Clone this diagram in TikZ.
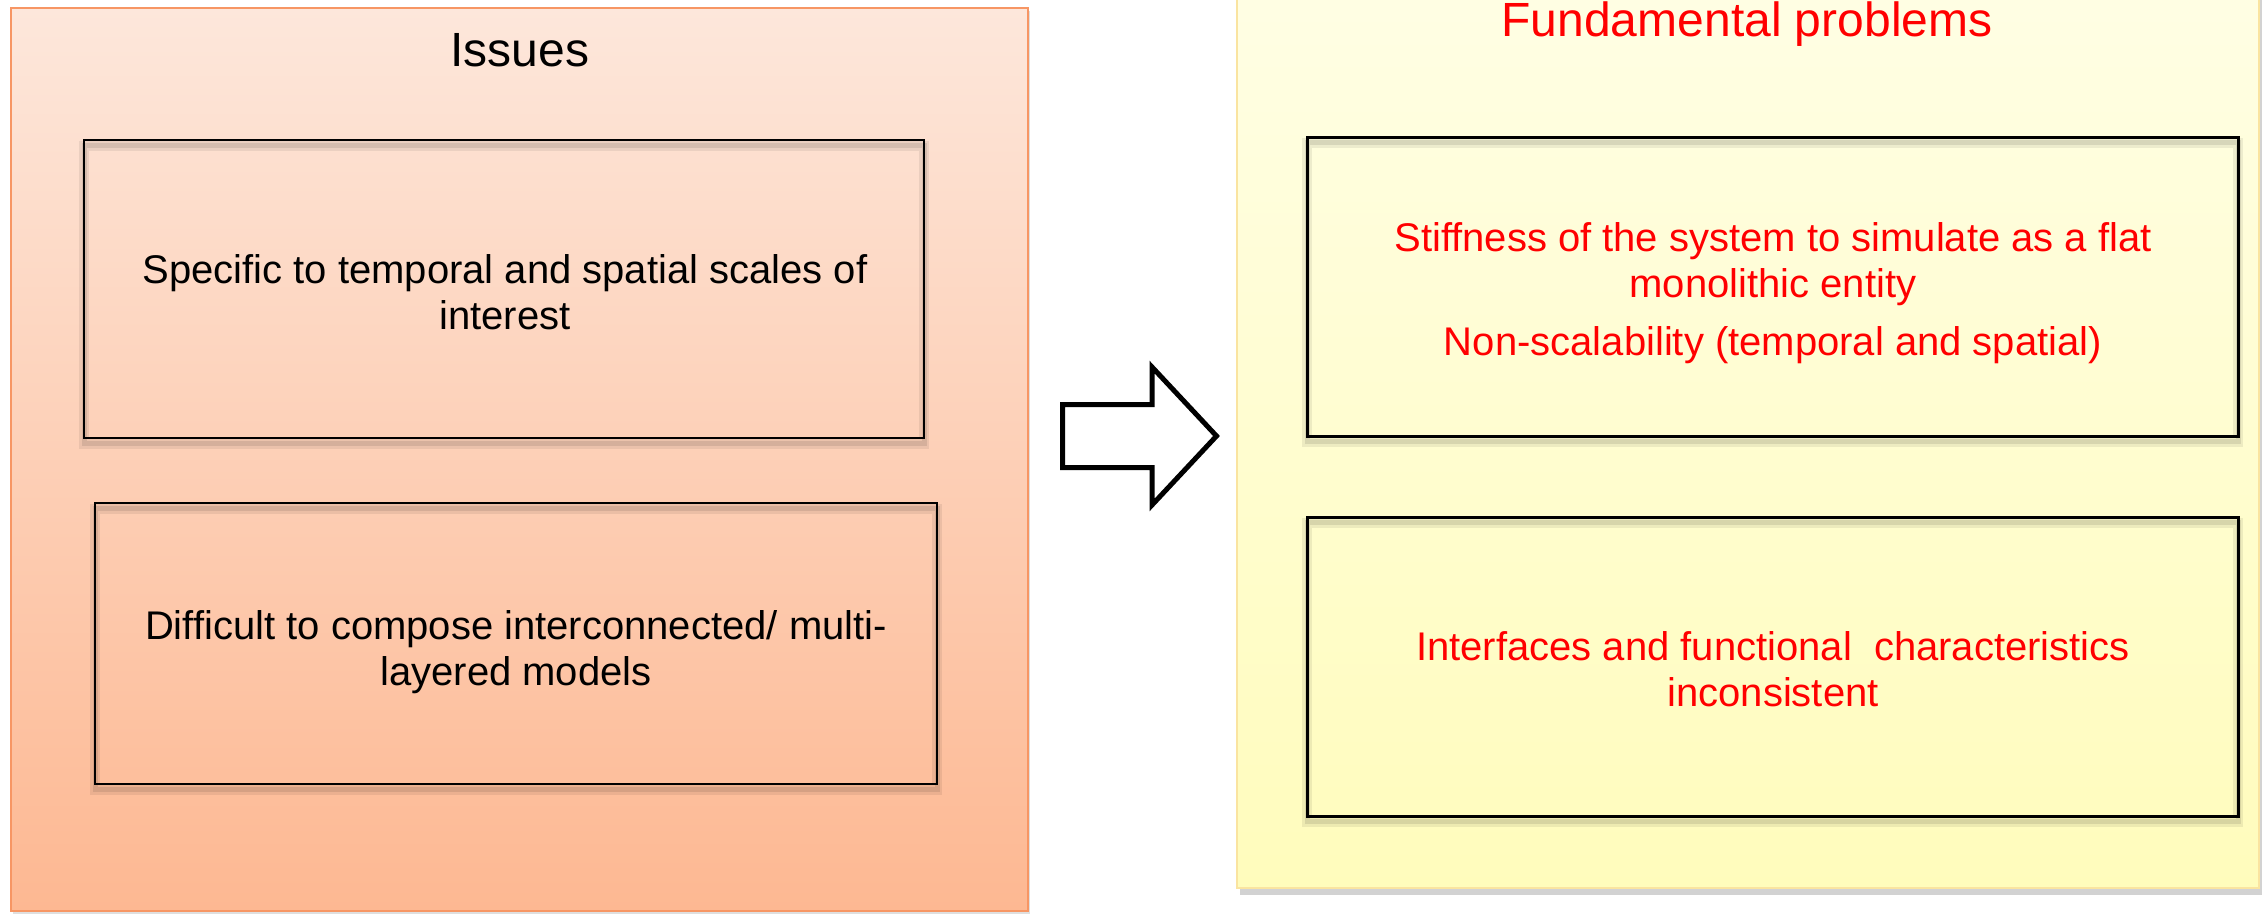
\documentclass[tikz,border=0pt]{standalone}
\usepackage{fontspec}
\setmainfont{Liberation Sans}
\usetikzlibrary{shadows}
\definecolor{lefttop}{RGB}{253,231,219}
\definecolor{leftbot}{RGB}{253,184,146}
\definecolor{leftedge}{RGB}{247,150,100}
\definecolor{righttop}{RGB}{255,254,228}
\definecolor{rightbot}{RGB}{255,252,188}
\definecolor{rightedge}{RGB}{250,228,160}
\definecolor{probred}{RGB}{255,0,0}
\begin{document}
\begin{tikzpicture}[x=1pt,y=-1pt,
  panel/.style={rectangle, line width=2pt, inner sep=0pt},
  leftpanel/.style={panel, draw=leftedge, top color=lefttop, bottom color=leftbot,
    drop shadow={opacity=0.25, shadow xshift=2pt, shadow yshift=-3pt}},
  rightpanel/.style={panel, draw=rightedge, top color=righttop, bottom color=rightbot,
    drop shadow={opacity=0.35, shadow xshift=3pt, shadow yshift=-7pt}},
  itembox/.style={rectangle, draw=black, line width=2.2pt, inner sep=0pt,
    preaction={draw=black, draw opacity=0.07, line width=10pt, transform canvas={yshift=-6pt}},
    preaction={draw=black, draw opacity=0.09, line width=5pt, transform canvas={yshift=-5pt}}},
  probbox/.style={itembox, line width=3pt},
  titletext/.style={font=\fontsize{48}{55}\selectfont},
  bodytext/.style={font=\fontsize{40}{46}\selectfont, align=center},
  blockarrow/.style={draw=black, fill=white, line width=5pt, line join=miter}
]
\useasboundingbox (0,0) rectangle (2264,914);
\fill[white] (0,0) rectangle (2264,914);

% panels
\node[leftpanel, minimum width=1017pt, minimum height=903pt] (issues) at (519.5,459.5) {};
\node[rightpanel, minimum width=1022pt, minimum height=900pt] (fund) at (1748,438) {};

% titles
\node[titletext] (issuestitle) at (520,50) {Issues};
\node[titletext, text=probred] (fundtitle) at (1747,24) {Fundamental problems};

% left boxes
\node[itembox, minimum width=840pt, minimum height=298pt] (b1) at (504,289) {};
\node[itembox, minimum width=842pt, minimum height=281pt] (b2) at (516,643.5) {};
\node[bodytext] (t1) at (505,292) {Specific to temporal and spatial scales of\\interest};
\node[bodytext] (t2) at (516,652) {Difficult to compose interconnected/ multi-\\layered models};

% right boxes
\node[probbox, minimum width=931pt, minimum height=299pt] (b3) at (1772.5,286.5) {};
\node[probbox, minimum width=931pt, minimum height=299pt] (b4) at (1772.5,666.5) {};
\node[bodytext, text=probred] (t3) at (1773,293) {Stiffness of the system to simulate as a flat\\monolithic entity\\[12pt]Non-scalability (temporal and spatial)};
\node[bodytext, text=probred] (t4) at (1773,669) {Interfaces and functional\ \ characteristics\\inconsistent};

% block arrow
\coordinate (arr) at (1062.5,436);
\draw[blockarrow] (arr) ++(0,-31.5) -- ++(89.5,0) -- ++(0,-37.5) -- ++(64.5,69)
  -- ++(-64.5,69) -- ++(0,-37.5) -- ++(-89.5,0) -- cycle;
\end{tikzpicture}
\end{document}
